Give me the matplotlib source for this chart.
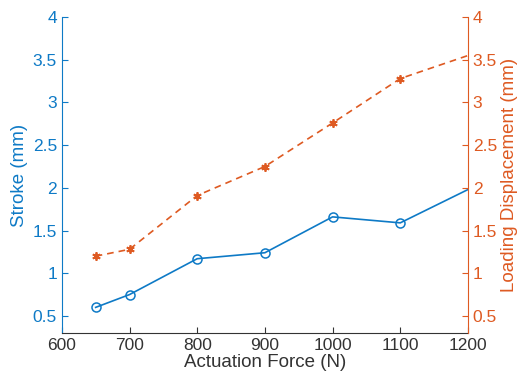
import numpy as np
import matplotlib.pyplot as plt

plt.rcParams['font.family'] = ['Liberation Sans', 'DejaVu Sans']

force = [650, 700, 800, 900, 1000, 1100, 1200]
stroke = [0.60, 0.75, 1.17, 1.24, 1.66, 1.59, 1.98]
loading = [1.20, 1.28, 1.91, 2.25, 2.76, 3.28, 3.55]

blue = '#0E7AC6'
orange = '#DE5A22'
gray = '#333333'

fig = plt.figure(figsize=(5.24, 3.89), dpi=100)
ax = fig.add_axes([0.118, 0.144, 0.775, 0.812])
ax2 = ax.twinx()

ax.plot(force, stroke, '-', color=blue, lw=1.2, marker='o', ms=6.5,
        mfc='none', mew=1.1, markevery=list(range(6)))
ax2.plot(force, loading, '--', color=orange, lw=1.2, marker=(6, 2, 0),
         ms=6, mew=1.3, markevery=list(range(6)), dashes=(4, 3))

ax.set_xlim(600, 1200)
ax.set_ylim(0.3, 4)
ax2.set_ylim(0.3, 4)
ax.set_xticks(np.arange(600, 1201, 100))
ax.set_yticks(np.arange(0.5, 4.01, 0.5))
ax2.set_yticks(np.arange(0.5, 4.01, 0.5))
ax.set_yticklabels(['0.5', '1', '1.5', '2', '2.5', '3', '3.5', '4'])
ax2.set_yticklabels(['0.5', '1', '1.5', '2', '2.5', '3', '3.5', '4'])

for a in (ax, ax2):
    a.spines['top'].set_visible(False)
    a.tick_params(direction='in', length=4, labelsize=12.5)
ax.spines['right'].set_visible(False)
ax2.spines['left'].set_visible(False)
ax2.spines['bottom'].set_visible(False)
ax.spines['left'].set_color(blue)
ax2.spines['right'].set_color(orange)
ax.spines['bottom'].set_color(gray)
ax.tick_params(axis='y', colors=blue)
ax.tick_params(axis='x', colors=gray)
ax2.tick_params(axis='y', colors=orange)

ax.set_xlabel('Actuation Force (N)', fontsize=13.5, color=gray, labelpad=1)
ax.set_ylabel('Stroke (mm)', fontsize=13.5, color=blue, labelpad=3)
ax2.set_ylabel('Loading Displacement (mm)', fontsize=13.5, color=orange, labelpad=3)

fig.savefig('out.png', dpi=100)
